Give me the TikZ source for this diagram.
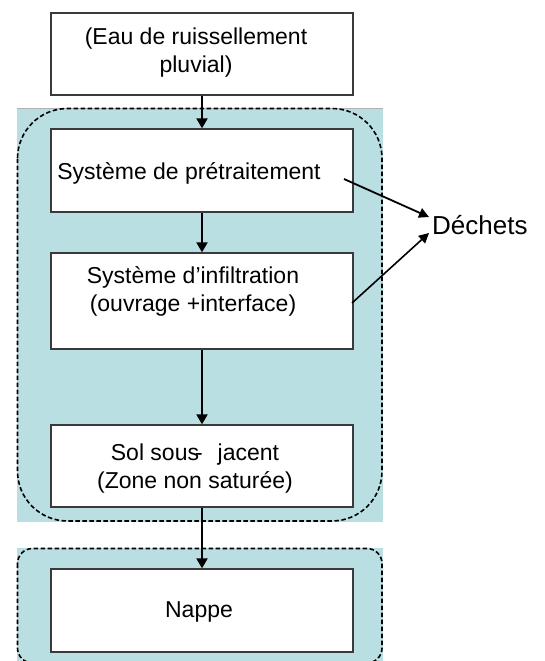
\documentclass[tikz,border=0pt]{standalone}
\usepackage{fontspec}
\setmainfont{Liberation Sans}
\usetikzlibrary{arrows.meta,calc}
\definecolor{teal1}{HTML}{BADFE2}
\definecolor{boxline}{HTML}{3A3A3A}
\begin{document}
\begin{tikzpicture}[x=1pt,y=-1pt,
  box/.style={draw=boxline,line width=1.3pt,fill=white,minimum width=302pt,inner sep=0pt},
  txt/.style={align=center,inner sep=0pt,font=\fontsize{23}{28}\selectfont},
  zone/.style={draw=black,line width=1.6pt,dash pattern=on 4.5pt off 2.5pt},
  flow/.style={-{Triangle[length=10pt,width=11pt]},line width=2.1pt,black}]
\useasboundingbox (0,0) rectangle (544,661);
% zones
\fill[teal1] (17,108) rectangle (383,522);
\draw[gray!60,line width=0.5pt] (17,108) -- (383,108);
\draw[zone,rounded corners=50pt] (17.5,108.5) rectangle (382,521);
\fill[teal1] (17,548) rectangle (383,661);
\draw[zone,rounded corners=15pt] (17.5,548.5) rectangle (382,663);
% boxes
\node[box,minimum height=82pt] (b1) at (202,54) {};
\node[box,minimum height=83pt] (b2) at (202,170.5) {};
\node[box,minimum height=96pt] (b3) at (202,301) {};
\node[box,minimum height=82pt] (b4) at (202,466) {};
\node[box,minimum height=83pt] (b5) at (202,610.5) {};
% texts
\node[txt] (t1) at (196,53) {(Eau de ruissellement\\pluvial)};
\node[txt] (t2) at (189,173) {Système de prétraitement};
\node[txt] (t3) at (193,291) {Système d’infiltration\\(ouvrage +interface)};
\node[txt] (t4) at (195,469) {Sol sous\kern-4pt-\hspace{15pt}jacent\\(Zone non saturée)};
\node[txt] (t5) at (199,612) {Nappe};
\node[inner sep=0pt,anchor=west,font=\fontsize{26}{30}\selectfont] (d) at (432,225) {Déchets};
% connectors
\draw[flow] (b1.south) -- (b2.north);
\draw[flow] (b2.south) -- (b3.north);
\draw[flow] (b3.south) -- (b4.north);
\draw[flow] (b4.south) -- (b5.north);
\coordinate (c1) at (344,179);
\coordinate (c2) at (352,303);
\draw[-{Triangle[length=10pt,width=10pt]},line width=1.8pt] (c1) -- ([xshift=-3pt,yshift=8pt]d.west);
\draw[-{Triangle[length=10pt,width=10pt]},line width=1.6pt] (c2) -- ([xshift=-3pt,yshift=-8pt]d.west);
\end{tikzpicture}
\end{document}
